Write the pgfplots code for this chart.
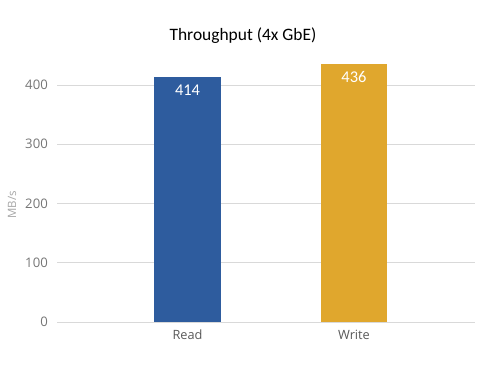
\documentclass[border=0pt]{standalone}
\usepackage{fontspec}
\setmainfont{Carlito}
\newfontfamily\uifont{Open Sans}
\usepackage{pgfplots}
\pgfplotsset{compat=1.18}
\definecolor{barblue}{RGB}{46,92,158}
\definecolor{bargold}{RGB}{224,167,45}
\definecolor{gridgray}{RGB}{217,217,217}
\definecolor{ticktxt}{RGB}{118,118,118}
\definecolor{cattxt}{RGB}{89,89,89}
\definecolor{labtxt}{RGB}{166,166,166}
\begin{document}
\begin{tikzpicture}[x=1bp,y=1bp]
\begin{axis}[
  scale only axis,
  width=418bp, height=266.6bp,
  ymin=0, ymax=450,
  xmin=-0.784, xmax=1.727,
  axis line style={draw=none},
  ymajorgrids,
  grid style={gridgray, line width=0.9bp},
  ytick={0,100,200,300,400},
  xtick={0,1},
  xticklabels={Read,Write},
  major tick length=0pt,
  tick style={draw=none},
  /pgf/number format/assume math mode=true,
  yticklabel style={anchor=east, inner sep=0pt, xshift=-9bp, font=\uifont\fontsize{13.2}{15}\selectfont, text=ticktxt},
  xticklabel style={anchor=north, inner sep=0pt, yshift=-8bp, font=\uifont\fontsize{12.8}{15}\selectfont, text=cattxt},
  ybar, bar width=0.402, bar shift=0pt,
  nodes near coords,
  nodes near coords style={anchor=north, inner sep=0pt, yshift=-8bp, text=white, font=\fontsize{16.5}{19}\selectfont},
  clip=false,
]
\addplot[ybar, fill=barblue, draw=none] coordinates {(0,414)};
\addplot[ybar, fill=bargold, draw=none] coordinates {(1,436)};
\coordinate (o) at (rel axis cs:0,0);
\end{axis}
\node[font=\fontsize{17.5}{20}\selectfont, text=black] at ([xshift=186bp, yshift=286bp]o) {Throughput (4x GbE)};
\node[rotate=90, font=\uifont\fontsize{11.5}{13}\selectfont, text=labtxt] at ([xshift=-45bp, yshift=117bp]o) {MB/s};
\path[use as bounding box] ([xshift=-57bp, yshift=-53bp]o) rectangle ++(485bp,375bp);
\end{tikzpicture}
\end{document}
